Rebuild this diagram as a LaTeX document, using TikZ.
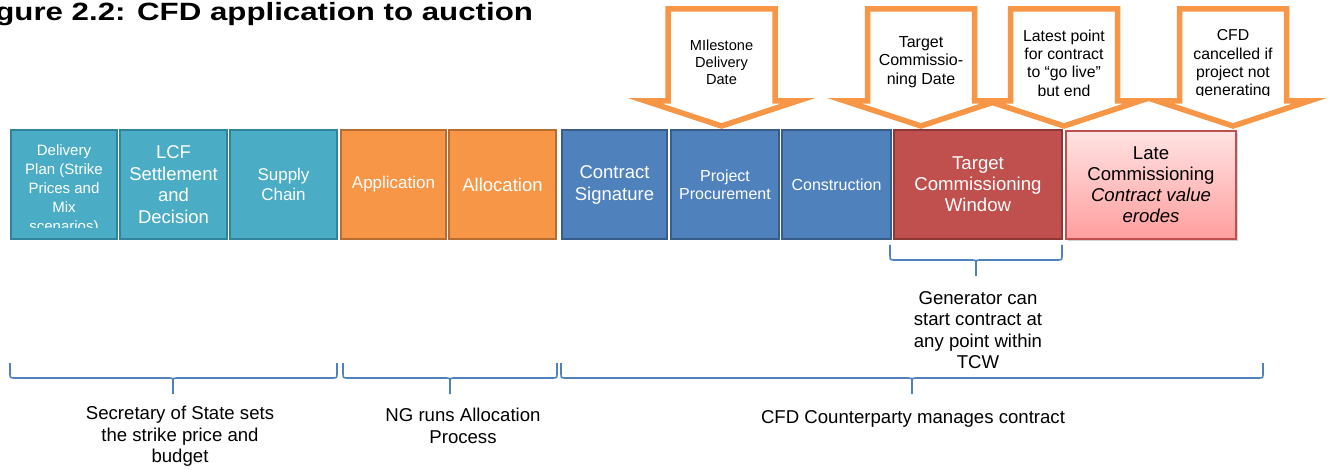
\documentclass[tikz,border=0pt]{standalone}
\usepackage{fontspec}
\setmainfont{Liberation Sans}
\usetikzlibrary{shadows}
\definecolor{tealf}{HTML}{4BACC6}
\definecolor{teald}{HTML}{31849B}
\definecolor{orgf}{HTML}{F79646}
\definecolor{orgd}{HTML}{B66D31}
\definecolor{bluef}{HTML}{4F81BD}
\definecolor{blued}{HTML}{385D8A}
\definecolor{redf}{HTML}{C0504D}
\definecolor{redd}{HTML}{8C3836}
\definecolor{pinkt}{HTML}{FFE3E3}
\definecolor{pinkb}{HTML}{FF9E9E}
\newcommand{\fs}[2]{\fontsize{#1}{#2}\selectfont}
\begin{document}
\begin{tikzpicture}[x=1pt,y=-1pt,
  stage/.style={draw,line width=2,minimum height=109,inner sep=0,align=center,text=white},
  callout/.style={draw=orgf,fill=white,line width=5.5},
  brace/.style={draw=bluef,line width=1.6},
  note/.style={align=center,font=\fs{18.6}{21.5}}]
\useasboundingbox (0,0) rectangle (1328,470);
\node[anchor=base west,font=\bfseries\fs{25}{30}] (title) at (-36,21) {\scalebox{1.25}[1]{Figure 2.2: CFD application to auction}};
% the four down arrows
\foreach \cx in {721.5,921,1064,1233}
  \draw[callout] (\cx-53.5,9) -- ++(107,0) -- (\cx+53.5,101) -- (\cx+76,101) -- (\cx,126) -- (\cx-76,101) -- (\cx-53.5,101) -- cycle;
\begin{scope}
\clip (600,0) rectangle (1328,96);
\node[align=center,font=\fs{14.6}{17}] (mdd) at (721.5,62) {MIlestone\\Delivery\\Date};
\node[align=center,font=\fs{16}{18.5}] (tcd) at (921,62) {Target\\Commissio-\\ning Date};
\node[align=center,font=\fs{15.8}{18.3}] (lpc) at (1064,63) {Latest point\\for contract\\to “go live”\\but end};
\node[align=center,font=\fs{15.8}{18.3}] (cfdc) at (1233,64.5) {CFD\\cancelled if\\project not\\generating};
\end{scope}
% stages
\node[stage,fill=tealf,draw=teald,minimum width=106] (dplan) at (64,184.5) {};
\begin{scope}
\clip (dplan.north west) rectangle ([yshift=12]dplan.south east);
\node[text=white,align=center,font=\fs{15}{19}] (dplant) at (64,190) {Delivery\\Plan (Strike\\Prices and\\Mix\\scenarios)};
\end{scope}
\node[stage,fill=tealf,draw=teald,minimum width=107,font=\fs{18.5}{21.5}] (lcf) at (173.5,184.5) {LCF\\Settlement\\and\\Decision};
\node[stage,fill=tealf,draw=teald,minimum width=107,font=\fs{17}{20}] (supply) at (283.5,184.5) {Supply\\Chain};
\node[stage,fill=orgf,draw=orgd,minimum width=105,font=\fs{17}{20}] (appl) at (393.5,184.5) {Application};
\node[stage,fill=orgf,draw=orgd,minimum width=107,font=\fs{18.5}{21}] (alloc) at (502.5,184.5) {Allocation};
\node[stage,fill=bluef,draw=blued,minimum width=105,font=\fs{18.5}{22}] (csig) at (614.5,184.5) {Contract\\Signature};
\node[stage,fill=bluef,draw=blued,minimum width=108,font=\fs{16}{18}] (proc) at (725,184.5) {Project\\Procurement};
\node[stage,fill=bluef,draw=blued,minimum width=109,font=\fs{16}{19}] (constr) at (836.5,184.5) {Construction};
\node[stage,fill=redf,draw=redd,minimum width=168,font=\fs{18.6}{21}] (tcw) at (978,184.5) {Target\\Commissioning\\Window};
\node[stage,top color=pinkt,bottom color=pinkb,draw=redf,text=black,minimum width=170,minimum height=108,font=\fs{18.6}{21},
  drop shadow={opacity=0.35,shadow xshift=2pt,shadow yshift=-2pt}] (late) at (1151,185) {Late\\Commissioning\\\textit{Contract value}\\\textit{erodes}};
% braces
\foreach \l/\m/\r/\t in {10/173/337/363,343/450/557/363,561/912/1263/363,890/976/1062/245}
  \draw[brace] (\l,\t) -- (\l,\t+10) .. controls (\l,\t+15) .. (\l+5,\t+15) -- (\m-5,\t+15) .. controls (\m,\t+15) .. (\m,\t+20) -- (\m,\t+31)
    (\m,\t+20) .. controls (\m,\t+15) .. (\m+5,\t+15) -- (\r-5,\t+15) .. controls (\r,\t+15) .. (\r,\t+10) -- (\r,\t);
\node[note] (gen) at (978,330) {Generator can\\start contract at\\any point within\\TCW};
\node[note] (sos) at (180,436.5) {Secretary of State sets\\the strike price and\\budget};
\node[note] (ngal) at (463,426) {NG runs Allocation\\Process};
\node[note] (cfdcp) at (913,419) {CFD Counterparty manages contract};
\end{tikzpicture}
\end{document}
